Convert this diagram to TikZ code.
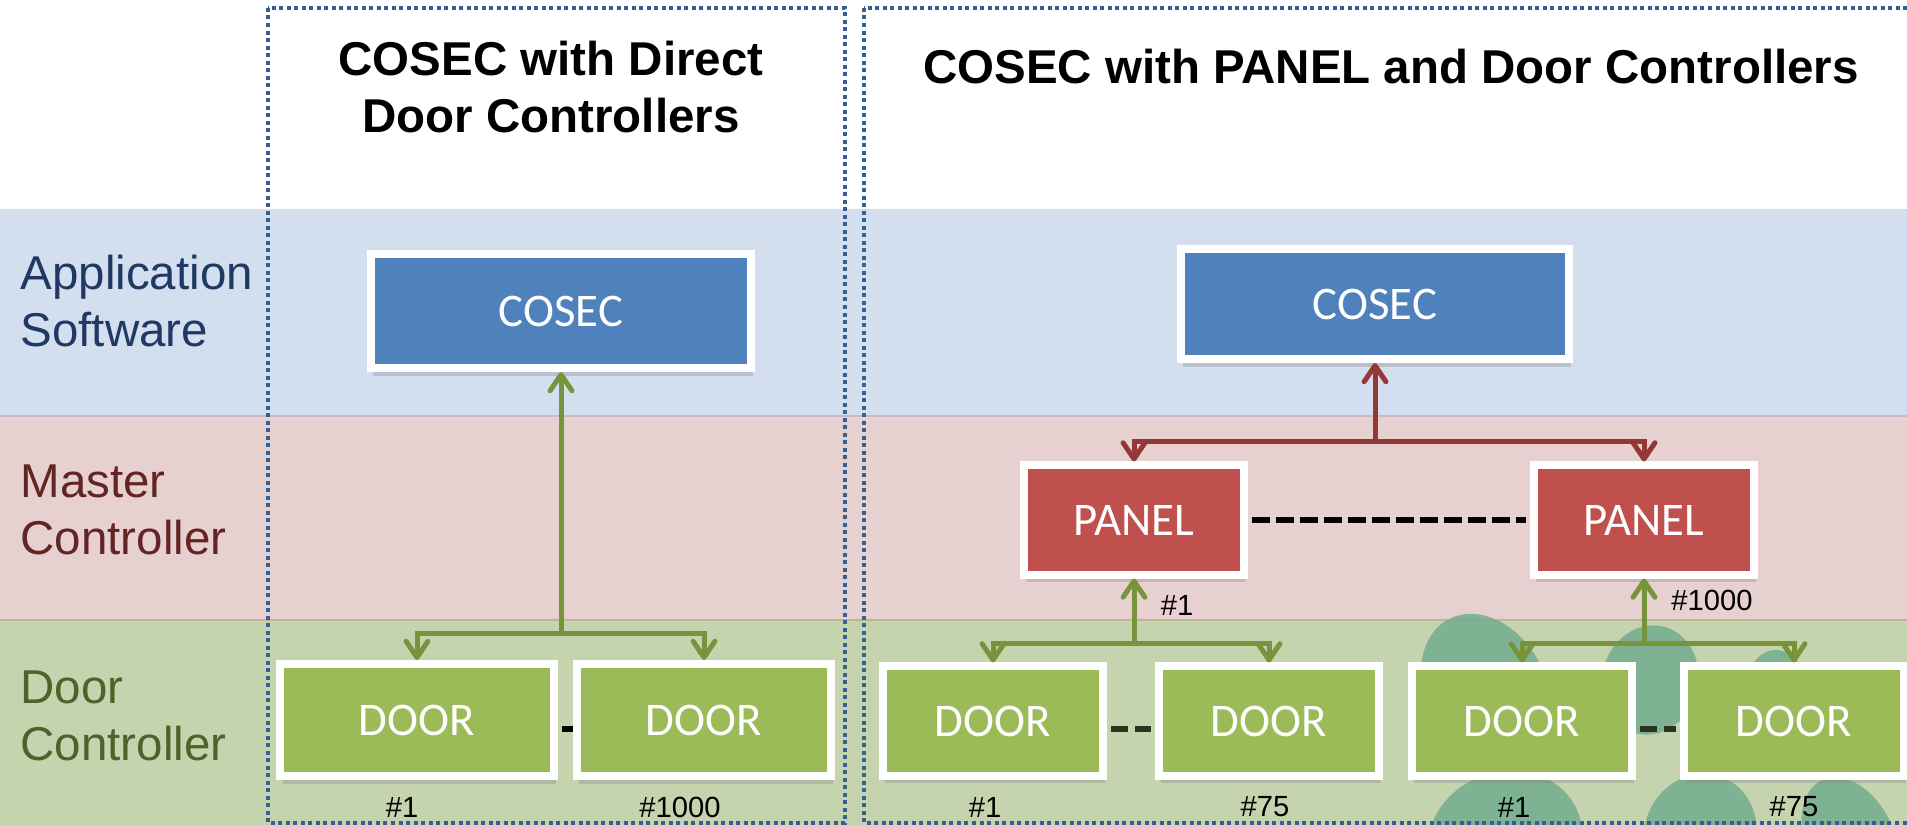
\documentclass[tikz,border=0pt]{standalone}
\usepackage{fontspec}
\setmainfont{Liberation Sans}
\newfontfamily\boxfont{Carlito}
\usetikzlibrary{arrows.meta,shadows}
\definecolor{appband}{RGB}{211,223,238}
\definecolor{masterband}{RGB}{230,208,208}
\definecolor{doorband}{RGB}{197,211,174}
\definecolor{appnavy}{RGB}{31,56,100}
\definecolor{masterred}{RGB}{99,37,35}
\definecolor{dooroliv}{RGB}{79,98,40}
\definecolor{cosecblue}{RGB}{79,129,189}
\definecolor{panelred}{RGB}{192,80,77}
\definecolor{doorgreen}{RGB}{155,187,89}
\definecolor{glinecol}{RGB}{119,147,60}
\definecolor{rlinecol}{RGB}{149,55,53}
\definecolor{frameblue}{RGB}{54,96,146}
\definecolor{blobcol}{RGB}{115,173,142}
\begin{document}
\begin{tikzpicture}[x=0.01cm,y=-0.01cm,
    box/.style={draw=white,line width=0.08cm,text=white,
      font=\boxfont\fontsize{13.3}{16}\selectfont,
      drop shadow={shadow xshift=0.6pt,shadow yshift=-2.2pt,opacity=0.3}},
    cosec/.style={box,fill=cosecblue,minimum width=3.88cm,minimum height=1.10cm},
    panel/.style={box,fill=panelred,minimum width=2.20cm,minimum height=1.09cm},
    door/.style={box,fill=doorgreen,minimum width=2.20cm,minimum height=1.09cm},
    tag/.style={font=\fontsize{8.3}{10}\selectfont},
    layer/.style={anchor=west,align=left,inner sep=0pt,font=\fontsize{13.5}{16.2}\selectfont},
    heading/.style={align=center,font=\bfseries\fontsize{13.5}{16.2}\selectfont},
    frame/.style={draw=frameblue,line width=0.035cm,dash pattern=on 0.04cm off 0.035cm},
    link/.style={line width=0.05cm,-{Straight Barb[length=4.6pt,width=6.2pt,round]}},
    glink/.style={link,glinecol},
    rlink/.style={link,rlinecol},
    paneldash/.style={line width=0.06cm,dash pattern=on 0.18cm off 0.06cm,
      shorten <=0.04cm,shorten >=0.04cm},
    doordash/.style={paneldash,dash pattern=on 0.17cm off 0.07cm},
    blob/.style={fill=blobcol,opacity=0.85}]
  \useasboundingbox (0,0) rectangle (1907,825);
  \clip (0,0) rectangle (1907,825);
  \fill[appband] (0,209) rectangle (1907,416);
  \fill[masterband] (0,416) rectangle (1907,620);
  \fill[doorband] (0,620) rectangle (1907,825);
  \draw[line width=0.02cm,color={rgb,255:red,200;green,186;blue,200}] (0,416) -- (1907,416);
  \draw[line width=0.02cm,color={rgb,255:red,192;green,180;blue,150}] (0,620) -- (1907,620);
  \begin{scope}
    \clip (1380,612) rectangle (1907,825);
    \fill[blob,rotate around={28:(1486,690)}] (1486,690) ellipse [x radius=0.60cm,y radius=0.80cm];
    \fill[blob,rotate around={-15:(1650,680)}] (1650,680) ellipse [x radius=0.48cm,y radius=0.55cm];
    \fill[blob] (1776,688) ellipse [x radius=0.30cm,y radius=0.38cm];
    \fill[blob,rotate around={20:(1505,840)}] (1505,840) ellipse [x radius=0.78cm,y radius=0.68cm];
    \fill[blob,rotate around={-20:(1700,835)}] (1700,835) ellipse [x radius=0.56cm,y radius=0.62cm];
    \fill[blob,rotate around={25:(1850,840)}] (1850,840) ellipse [x radius=0.44cm,y radius=0.66cm];
  \end{scope}
  \draw[frame] (268,8) rectangle (845,823);
  \draw[frame] (864,8) rectangle (1940,823);
  \node[heading] (titleL) at (551,87) {COSEC with Direct\\Door Controllers};
  \node[heading] (titleR) at (1391,67) {COSEC with PANEL and Door Controllers};
  \node[layer,text=appnavy] (app) at (20,301) {Application\\Software};
  \node[layer,text=masterred] (master) at (20,510) {Master\\Controller};
  \node[layer,text=dooroliv] (doorctl) at (20,716) {Door\\Controller};
  \node[cosec,minimum width=3.80cm,minimum height=1.14cm] (cosecL) at (561,311) {COSEC};
  \node[cosec] (cosecR) at (1375,304) {COSEC};
  \node[panel] (panel1) at (1134,520) {PANEL};
  \node[panel] (panel2) at (1644,520) {PANEL};
  \node[door,minimum width=2.73cm,minimum height=1.12cm] (doorL1) at (417,720) {DOOR};
  \node[door,minimum width=2.54cm,minimum height=1.12cm] (doorL2) at (704,720) {DOOR};
  \node[door] (doorA) at (993,721) {DOOR};
  \node[door] (doorB) at (1269,721) {DOOR};
  \node[door] (doorC) at (1522,721) {DOOR};
  \node[door] (doorD) at (1794,721) {DOOR};
  \node[tag] (tagL1) at (402,807) {\#1};
  \node[tag] (tagL2) at (680,807) {\#1000};
  \node[tag] (tagP1) at (1177,605) {\#1};
  \node[tag] (tagP2) at (1712,600) {\#1000};
  \node[tag] (tagA) at (985,807) {\#1};
  \node[tag] (tagB) at (1265,807) {\#75};
  \node[tag] (tagC) at (1514,807) {\#1};
  \node[tag] (tagD) at (1794,807) {\#75};
  \coordinate (forkL) at (561,633);
  \coordinate (forkR) at (1375,442);
  \coordinate (fork1) at (1134,643);
  \coordinate (fork2) at (1644,643);
  \draw[glink] (forkL) -- (cosecL);
  \draw[glink] (forkL) -| (doorL1);
  \draw[glink] (forkL) -| (doorL2);
  \draw[rlink] (forkR) -- (cosecR);
  \draw[rlink] (forkR) -| (panel1);
  \draw[rlink] (forkR) -| (panel2);
  \draw[glink] (fork1) -- (panel1);
  \draw[glink] (fork1) -| (doorA);
  \draw[glink] (fork1) -| (doorB);
  \draw[glink] (fork2) -- (panel2);
  \draw[glink] (fork2) -| (doorC);
  \draw[glink] (fork2) -| (doorD);
  \draw[paneldash] (panel1) -- (panel2);
  \draw[doordash,shorten >=0pt] ([yshift=-0.09cm]doorL1.east) -- ([yshift=-0.09cm]doorL2.west);
  \draw[doordash,color={rgb,255:red,40;green,52;blue,28}] ([yshift=-0.08cm]doorA.east) -- ([yshift=-0.08cm]doorB.west);
  \draw[doordash,color={rgb,255:red,40;green,52;blue,28}] ([yshift=-0.08cm]doorC.east) -- ([yshift=-0.08cm]doorD.west);
\end{tikzpicture}
\end{document}
